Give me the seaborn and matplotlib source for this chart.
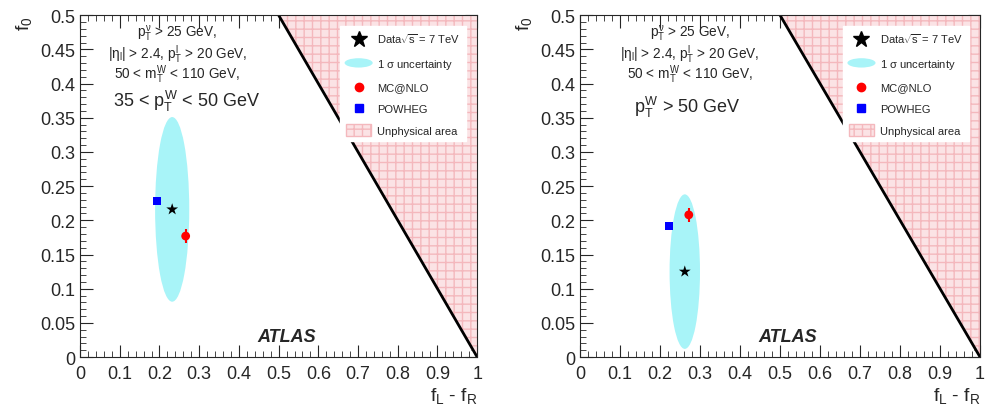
import matplotlib
matplotlib.use("Agg")
import matplotlib.pyplot as plt
import seaborn as sns
import pandas as pd
import numpy as np
from matplotlib.patches import Ellipse, Rectangle
from matplotlib.lines import Line2D
from matplotlib.ticker import MultipleLocator
from matplotlib.legend_handler import HandlerPatch

# ---- data ----
panel_cut = [r"35 < $p_{\rm T}^{\rm W}$ < 50 GeV", r"$p_{\rm T}^{\rm W}$ > 50 GeV"]
data_fLfR = [0.232, 0.262]
data_f0 = [0.216, 0.125]
unc_fLfR = [0.043, 0.038]   # half-width of 1 sigma ellipse
unc_f0 = [0.135, 0.113]     # half-height of 1 sigma ellipse
mc_fLfR = [0.266, 0.272]
mc_f0 = [0.177, 0.208]
mc_err = [0.010, 0.010]
pow_fLfR = [0.194, 0.222]
pow_f0 = [0.228, 0.192]
pow_err = [0.006, 0.006]
common_cuts = [r"$p_{\rm T}^{\nu}$ > 25 GeV,",
               r"$|\eta_{\rm l}|$ > 2.4, $p_{\rm T}^{\rm l}$ > 20 GeV,",
               r"50 < $m_{\rm T}^{\rm W}$ < 110 GeV,"]

sns.set_style("ticks")
plt.rcParams['font.family'] = ['Liberation Sans', 'DejaVu Sans']
plt.rcParams['mathtext.fontset'] = 'custom'
plt.rcParams['mathtext.rm'] = 'Liberation Sans'
plt.rcParams['mathtext.it'] = 'Liberation Sans'

fig = plt.figure(figsize=(9.88, 4.14), dpi=100)
ax_pos = [[0.081, 0.135, 0.402, 0.826], [0.587, 0.135, 0.405, 0.826]]

pink = "#f4b8bd"
pinkfill = "#fbe3e5"
cyan = "#a8f4f8"


class HandlerEllipse(HandlerPatch):
    def create_artists(self, legend, orig_handle, xdescent, ydescent, width, height, fontsize, trans):
        p = Ellipse((width / 2 - xdescent, height / 2 - ydescent), width * 1.1, height * 1.2)
        self.update_prop(p, orig_handle, legend)
        p.set_transform(trans)
        return [p]


class HandlerBox(HandlerPatch):
    def create_artists(self, legend, orig_handle, xdescent, ydescent, width, height, fontsize, trans):
        h = height * 1.6
        p = Rectangle((-xdescent, height / 2 - ydescent - h / 2), width, h)
        self.update_prop(p, orig_handle, legend)
        p.set_transform(trans)
        return [p]


text_x = [0.245, 0.275]
cut_x = [0.268, 0.268]
for i in range(2):
    ax = fig.add_axes(ax_pos[i])
    ax.set_xlim(0, 1)
    ax.set_ylim(0, 0.5)
    # unphysical area
    ax.fill([0.5, 1, 1], [0.5, 0, 0.5], facecolor=pinkfill, edgecolor=pink,
            hatch="++", linewidth=0, zorder=1)
    ax.plot([0.5, 1], [0.5, 0], color="black", lw=2, zorder=2)
    # 1 sigma ellipse
    ax.add_patch(Ellipse((data_fLfR[i], data_f0[i]), 2 * unc_fLfR[i], 2 * unc_f0[i],
                         facecolor=cyan, edgecolor="none", zorder=3))
    # error bars
    ax.errorbar([mc_fLfR[i]], [mc_f0[i]], yerr=[mc_err[i]], fmt="none", ecolor="red", lw=1.5, zorder=4)
    ax.errorbar([pow_fLfR[i]], [pow_f0[i]], yerr=[pow_err[i]], fmt="none", ecolor="blue", lw=1.5, zorder=4)
    df = pd.DataFrame({"x": [data_fLfR[i], mc_fLfR[i], pow_fLfR[i]],
                       "y": [data_f0[i], mc_f0[i], pow_f0[i]],
                       "kind": ["Data", "MC@NLO", "POWHEG"]})
    sns.scatterplot(data=df, x="x", y="y", hue="kind", style="kind", size="kind",
                    sizes={"Data": 80, "MC@NLO": 40, "POWHEG": 36},
                    palette={"Data": "black", "MC@NLO": "red", "POWHEG": "blue"},
                    markers={"Data": "*", "MC@NLO": "o", "POWHEG": "s"},
                    edgecolor="none", legend=False, ax=ax, zorder=5)

    ax.xaxis.set_major_locator(MultipleLocator(0.1))
    ax.xaxis.set_minor_locator(MultipleLocator(0.02))
    ax.yaxis.set_major_locator(MultipleLocator(0.05))
    ax.yaxis.set_minor_locator(MultipleLocator(0.01))
    ax.xaxis.set_major_formatter(lambda v, p: ("%g" % round(v, 2)))
    ax.yaxis.set_major_formatter(lambda v, p: ("%g" % round(v, 2)))
    ax.tick_params(which="both", direction="in", top=True, right=True, labelsize=13)
    ax.tick_params(which="major", length=9, width=0.8)
    ax.tick_params(which="minor", length=4.5, width=0.6)
    ax.tick_params(axis="x", pad=6)
    for s in ax.spines.values():
        s.set_linewidth(0.8)
    ax.set_xlabel(r"$f_{\rm L}$ - $f_{\rm R}$", fontsize=14, loc="right", labelpad=2)
    ax.set_ylabel(r"$f_{0}$", fontsize=14, loc="top", labelpad=4)

    ys = [0.474, 0.444, 0.414]
    for t, yy in zip(common_cuts, ys):
        ax.text(text_x[i], yy, t, ha="center", va="center", fontsize=9.8)
    ax.text(cut_x[i], 0.376 if i == 0 else 0.366, panel_cut[i],
            ha="center", va="center", fontsize=13)
    ax.text(0.52, 0.03, "ATLAS", ha="center", va="center", fontsize=13,
            fontweight="bold", fontstyle="italic")

    handles = [Line2D([], [], marker="*", color="black", ls="none", markersize=12),
               Ellipse((0, 0), 1, 1, facecolor=cyan, edgecolor="none"),
               Line2D([], [], marker="o", color="red", ls="none", markersize=6),
               Line2D([], [], marker="s", color="blue", ls="none", markersize=6),
               Rectangle((0, 0), 1, 1, facecolor=pinkfill, edgecolor=pink, hatch="++")]
    labels = [r"Data$\sqrt{s}$ = 7 TeV", r"1 $\sigma$ uncertainty", "MC@NLO", "POWHEG",
              "Unphysical area"]
    leg = ax.legend(handles, labels, loc="upper right", bbox_to_anchor=(0.985, 0.985),
                    fontsize=8, frameon=True, fancybox=False, edgecolor="white",
                    framealpha=1, handlelength=2.3, handletextpad=0.5,
                    labelspacing=1.05, borderpad=0.5,
                    handler_map={Ellipse: HandlerEllipse(), Rectangle: HandlerBox()})
    leg.set_zorder(10)

fig.savefig("out.png", dpi=100)
